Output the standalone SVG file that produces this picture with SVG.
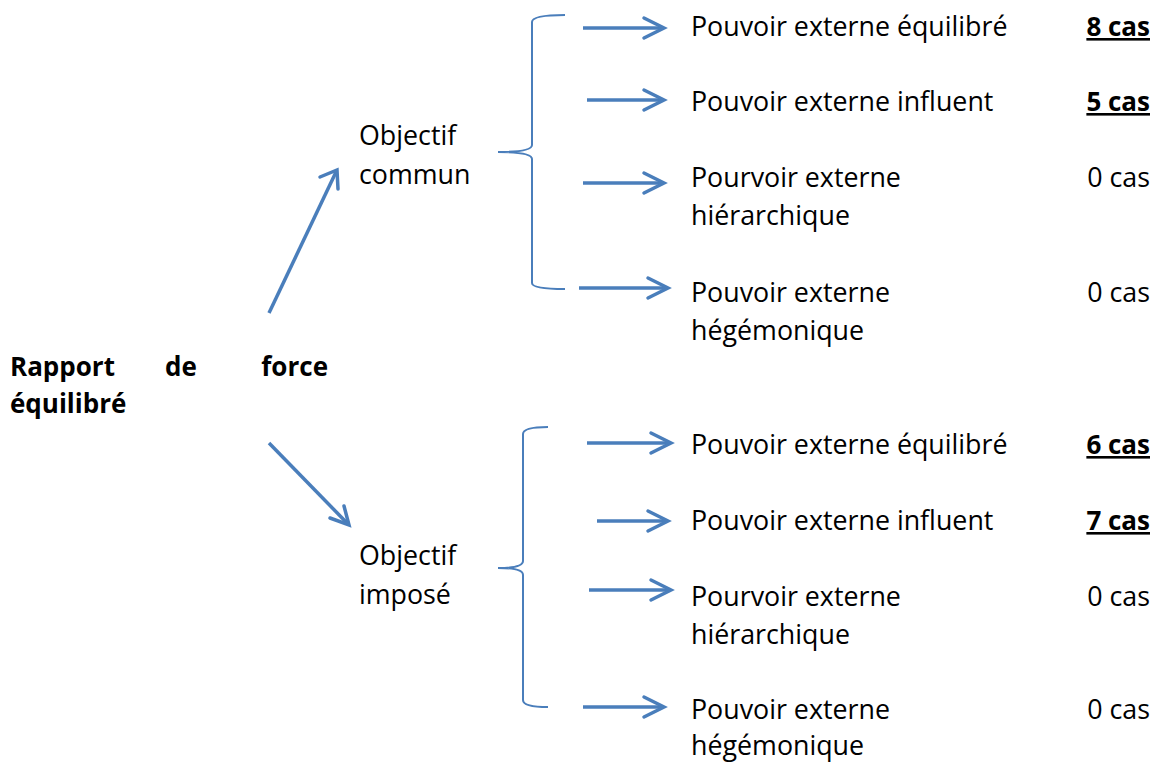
<svg xmlns="http://www.w3.org/2000/svg" width="1156" height="762" viewBox="0 0 1156 762">
<defs>
<style>
text{font-family:"Open Sans","Liberation Sans",sans-serif;font-size:26.8px;fill:#000}
.b{font-weight:bold;font-size:26px}
.u{text-decoration:underline}
.arr{stroke:#4a7ebb;stroke-width:3.5;fill:none;stroke-linecap:butt}
.head{stroke:#4a7ebb;stroke-width:3.5;fill:none;stroke-linecap:round;stroke-linejoin:miter}
.brace{stroke:#4a7ebb;stroke-width:2;fill:none}
</style>
</defs>
<rect width="1156" height="762" fill="#fff"/>
<g id="connectors">
<path class="brace" d="M565,15 Q532,15 532,22 L532,145 Q532,152 498,152 Q532,152 532,159 L532,283 Q532,289 565,289"/>
<path class="brace" d="M548,427 Q523,427 523,434 L523,561 Q523,568 498,568 Q523,568 523,575 L523,700 Q523,707 548,707"/>
<g>
<line class="arr" x1="269" y1="313" x2="336" y2="172"/>
<path class="head" d="M320,177 L337,170 L338,189"/>
<line class="arr" x1="269" y1="443" x2="347" y2="523"/>
<path class="head" d="M330,518 L349,525 L344,506"/>
</g>
<g>
<line class="arr" x1="583" y1="28" x2="662" y2="28"/><path class="head" d="M644,18 L664,28 L644,38"/>
<line class="arr" x1="587" y1="100" x2="662" y2="100"/><path class="head" d="M644,90 L664,100 L644,110"/>
<line class="arr" x1="583" y1="183" x2="662" y2="183"/><path class="head" d="M644,173 L664,183 L644,193"/>
<line class="arr" x1="579" y1="288" x2="666" y2="288"/><path class="head" d="M648,278 L668,288 L648,298"/>
<line class="arr" x1="587" y1="443" x2="669" y2="443"/><path class="head" d="M651,433 L671,443 L651,453"/>
<line class="arr" x1="597" y1="521" x2="666" y2="521"/><path class="head" d="M648,511 L668,521 L648,531"/>
<line class="arr" x1="589" y1="590" x2="669" y2="590"/><path class="head" d="M651,580 L671,590 L651,600"/>
<line class="arr" x1="583" y1="707" x2="662" y2="707"/><path class="head" d="M644,697 L664,707 L644,717"/>
</g>
</g>
<g id="root">
<text class="b" x="10" y="376">Rapport</text>
<text class="b" x="165" y="376">de</text>
<text class="b" x="328" y="376" text-anchor="end">force</text>
<text class="b" x="10" y="413">équilibré</text>
</g>
<g id="obj-commun"><text x="359" y="145">Objectif</text><text x="359" y="184">commun</text></g>
<g id="obj-impose"><text x="359" y="565">Objectif</text><text x="359" y="604">imposé</text></g>
<g id="c1"><text x="691" y="36">Pouvoir externe équilibré</text><text class="b u" x="1150" y="36" text-anchor="end">8 cas</text></g>
<g id="c2"><text x="691" y="111">Pouvoir externe influent</text><text class="b u" x="1150" y="111" text-anchor="end">5 cas</text></g>
<g id="c3"><text x="691" y="187">Pourvoir externe</text><text x="691" y="225">hiérarchique</text><text x="1150" y="187" text-anchor="end">0 cas</text></g>
<g id="c4"><text x="691" y="302">Pouvoir externe</text><text x="691" y="340">hégémonique</text><text x="1150" y="302" text-anchor="end">0 cas</text></g>
<g id="i1"><text x="691" y="454">Pouvoir externe équilibré</text><text class="b u" x="1150" y="454" text-anchor="end">6 cas</text></g>
<g id="i2"><text x="691" y="530">Pouvoir externe influent</text><text class="b u" x="1150" y="530" text-anchor="end">7 cas</text></g>
<g id="i3"><text x="691" y="606">Pourvoir externe</text><text x="691" y="644">hiérarchique</text><text x="1150" y="606" text-anchor="end">0 cas</text></g>
<g id="i4"><text x="691" y="719">Pouvoir externe</text><text x="691" y="755">hégémonique</text><text x="1150" y="719" text-anchor="end">0 cas</text></g>
</svg>
